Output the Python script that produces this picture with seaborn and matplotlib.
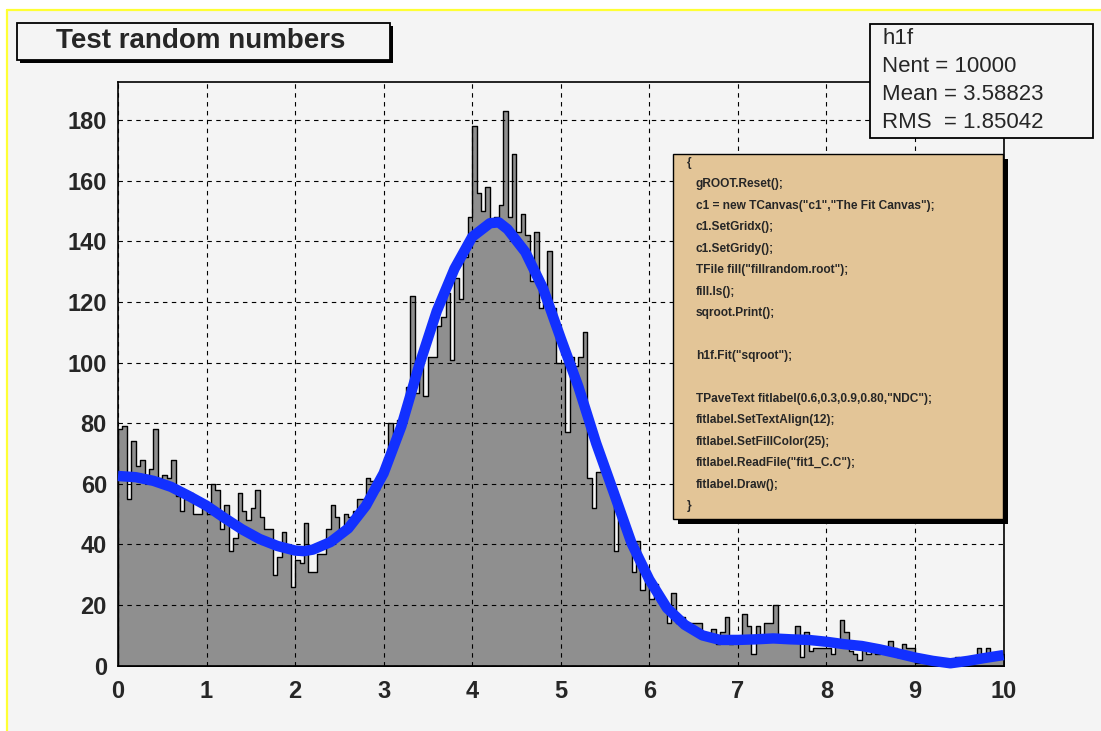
import numpy as np
import pandas as pd
import matplotlib
matplotlib.use("Agg")
import matplotlib.pyplot as plt
from matplotlib.patches import Rectangle
from matplotlib.lines import Line2D
from matplotlib.ticker import MultipleLocator
import seaborn as sns

# ---------------- data ----------------
hist_range = (0.0, 10.0)
n_bins = 200
counts = [
    78, 79, 55, 74, 66, 68, 63, 65, 78, 62,
    63, 62, 68, 56, 51, 55, 57, 50, 50, 52,
    50, 60, 58, 45, 53, 38, 42, 57, 51, 48,
    52, 58, 49, 45, 45, 30, 36, 44, 39, 26,
    35, 34, 47, 31, 31, 37, 37, 45, 53, 49,
    44, 50, 49, 51, 55, 55, 62, 61, 58, 63,
    67, 80, 74, 81, 80, 92, 122, 90, 100, 89,
    102, 102, 112, 115, 123, 101, 128, 121, 135, 148,
    178, 156, 150, 158, 147, 148, 152, 183, 148, 169,
    143, 149, 142, 127, 143, 118, 122, 137, 118, 100,
    100, 77, 102, 99, 102, 110, 62, 52, 64, 65,
    65, 58, 38, 51, 48, 40, 31, 41, 25, 29,
    22, 27, 21, 21, 14, 24, 14, 16, 14, 14,
    14, 14, 10, 9, 12, 7, 11, 16, 7, 8,
    9, 17, 13, 4, 13, 8, 14, 14, 20, 9,
    9, 8, 8, 13, 3, 11, 5, 6, 6, 6,
    6, 4, 7, 15, 11, 5, 4, 2, 6, 4,
    5, 4, 5, 5, 8, 6, 3, 7, 6, 6,
    1, 1, 1, 2, 1, 0, 1, 0, 2, 3,
    2, 2, 2, 3, 6, 4, 6, 3, 4, 4,
]
assert len(counts) == n_bins

fit_x = [0.0, 0.2, 0.4, 0.6, 0.8, 1.0, 1.2, 1.4, 1.6, 1.8, 2.0, 2.1, 2.2, 2.4,
         2.6, 2.8, 3.0, 3.2, 3.4, 3.6, 3.8, 4.0, 4.2, 4.3, 4.4, 4.6, 4.8, 5.0,
         5.2, 5.4, 5.6, 5.8, 6.0, 6.2, 6.4, 6.6, 6.8, 7.0, 7.2, 7.4, 7.6, 7.8,
         8.0, 8.2, 8.4, 8.6, 8.8, 9.0, 9.2, 9.4, 9.6, 9.8, 10.0]
fit_y = [62.6, 62.2, 61.0, 59.0, 56.0, 52.8, 48.8, 45.0, 41.8, 39.5, 38.0, 37.8, 38.3, 40.8,
         45.3, 52.8, 63.5, 79.0, 99.0, 117.0, 131.0, 141.5, 146.0, 146.3, 144.0, 136.5, 124.5, 108.0,
         92.0, 73.4, 57.0, 40.4, 28.4, 19.0, 13.5, 10.0, 8.5, 8.5, 8.7, 9.0, 8.7, 8.5,
         7.9, 7.1, 6.5, 5.4, 4.1, 2.7, 1.6, 0.8, 1.6, 2.6, 3.5]

x_ticks = [0, 1, 2, 3, 4, 5, 6, 7, 8, 9, 10]
y_ticks = [0, 20, 40, 60, 80, 100, 120, 140, 160, 180]
y_max = 192.6

title_text = "Test random numbers"
stats_lines = ["h1f", "Nent = 10000", "Mean = 3.58823", "RMS  = 1.85042"]
macro_lines = [
    "{",
    "gROOT.Reset();",
    "c1 = new TCanvas(\"c1\",\"The Fit Canvas\");",
    "c1.SetGridx();",
    "c1.SetGridy();",
    "TFile fill(\"fillrandom.root\");",
    "fill.ls();",
    "sqroot.Print();",
    "",
    "h1f.Fit(\"sqroot\");",
    "",
    "TPaveText fitlabel(0.6,0.3,0.9,0.80,\"NDC\");",
    "fitlabel.SetTextAlign(12);",
    "fitlabel.SetFillColor(25);",
    "fitlabel.ReadFile(\"fit1_C.C\");",
    "fitlabel.Draw();",
    "}",
]

# ---------------- styling ----------------
W, H = 1101, 731
BG = "#f4f4f4"
sns.set_style("white")
plt.rcParams['font.family'] = ['Liberation Sans', 'DejaVu Sans']


def fx(px):
    return px / W


def fy(py):
    return 1 - py / H


fig = plt.figure(figsize=(W / 100, H / 100), dpi=100, facecolor="white")

# canvas background + yellow border (top & left)
fig.add_artist(Rectangle((fx(7), 0), 1 - fx(7), fy(10), transform=fig.transFigure,
                         facecolor=BG, edgecolor="none", zorder=-10))
fig.add_artist(Line2D([fx(7), 1], [fy(10), fy(10)], transform=fig.transFigure,
                      color="#ffff33", linewidth=1.6, zorder=-5))
fig.add_artist(Line2D([fx(7), fx(7)], [fy(10), 0], transform=fig.transFigure,
                      color="#ffff33", linewidth=1.6, zorder=-5))

left, right, top, bottom = 118, 1003.5, 82, 665.7
ax = fig.add_axes([fx(left), fy(bottom), (right - left) / W, (bottom - top) / H])
ax.set_facecolor(BG)

bin_width = (hist_range[1] - hist_range[0]) / n_bins
edges = np.linspace(hist_range[0], hist_range[1], n_bins + 1)
centers = (edges[:-1] + edges[1:]) / 2
df = pd.DataFrame({"x": centers, "n": np.asarray(counts, dtype=float)})

sns.histplot(data=df, x="x", weights="n", binwidth=bin_width, binrange=hist_range,
             element="step", fill=True, color="#8f8f8f", edgecolor="black",
             linewidth=1.0, alpha=1, ax=ax)

fit_df = pd.DataFrame({"x": fit_x, "y": fit_y})
sns.lineplot(data=fit_df, x="x", y="y", color="#1230ff", linewidth=7.5, ax=ax,
             zorder=4, clip_on=False, solid_capstyle="butt", solid_joinstyle="round")

ax.set_xlim(*hist_range)
ax.set_ylim(0, y_max)
ax.set_xlabel("")
ax.set_ylabel("")
ax.set_xticks(x_ticks)
ax.set_yticks(y_ticks)
ax.set_xticklabels([str(t) for t in x_ticks], fontweight="bold")
ax.set_yticklabels([str(t) for t in y_ticks], fontweight="bold")
ax.xaxis.set_minor_locator(MultipleLocator(0.2))
ax.yaxis.set_minor_locator(MultipleLocator(5))
ax.tick_params(axis="both", which="both", direction="in", top=False, right=False,
               color="black", width=1.0)
ax.tick_params(axis="x", which="major", length=12.6, pad=10, labelsize=17)
ax.tick_params(axis="x", which="minor", length=6.3)
ax.tick_params(axis="y", which="major", length=18.7, pad=8, labelsize=17)
ax.tick_params(axis="y", which="minor", length=9.4)
ax.grid(True, which="major", color="black", linestyle=(0, (4, 4)), linewidth=0.8)
ax.set_axisbelow(False)
for sp in ax.spines.values():
    sp.set_color("black")
    sp.set_linewidth(1.2)
    sp.set_visible(True)


# ---------------- boxes ----------------
def box(x0, y0, x1, y1, face, lw=1.2, shadow=0, z=5):
    if shadow:
        fig.add_artist(Rectangle((fx(x0 + shadow), fy(y1 + shadow)), (x1 - x0) / W, (y1 - y0) / H,
                                 transform=fig.transFigure, facecolor="black",
                                 edgecolor="black", linewidth=0, zorder=z - 0.5))
    fig.add_artist(Rectangle((fx(x0), fy(y1)), (x1 - x0) / W, (y1 - y0) / H,
                             transform=fig.transFigure, facecolor=face,
                             edgecolor="black", linewidth=lw, zorder=z))


box(17, 23, 390, 60, BG, lw=1.3, shadow=3)
fig.text(fx(201), fy(41.5), title_text, ha="center", va="center", fontsize=20,
         fontweight="bold", zorder=6)

box(870, 24, 1093, 138, BG, lw=1.3)
for i, line in enumerate(stats_lines):
    fig.text(fx(882), fy(38 + 28.3 * i), line, ha="left", va="center",
             fontsize=16, zorder=6)

box(673, 154, 1003, 519, "#e3c597", lw=1.0, shadow=5)
for i, line in enumerate(macro_lines):
    if not line:
        continue
    xpos = 687 if line in ("{", "}") else 696
    fig.text(fx(xpos), fy(163 + 21.45 * i), line, ha="left", va="center",
             fontsize=8.6, fontweight="bold", zorder=6)

fig.savefig("out.png", dpi=100, facecolor="white")
